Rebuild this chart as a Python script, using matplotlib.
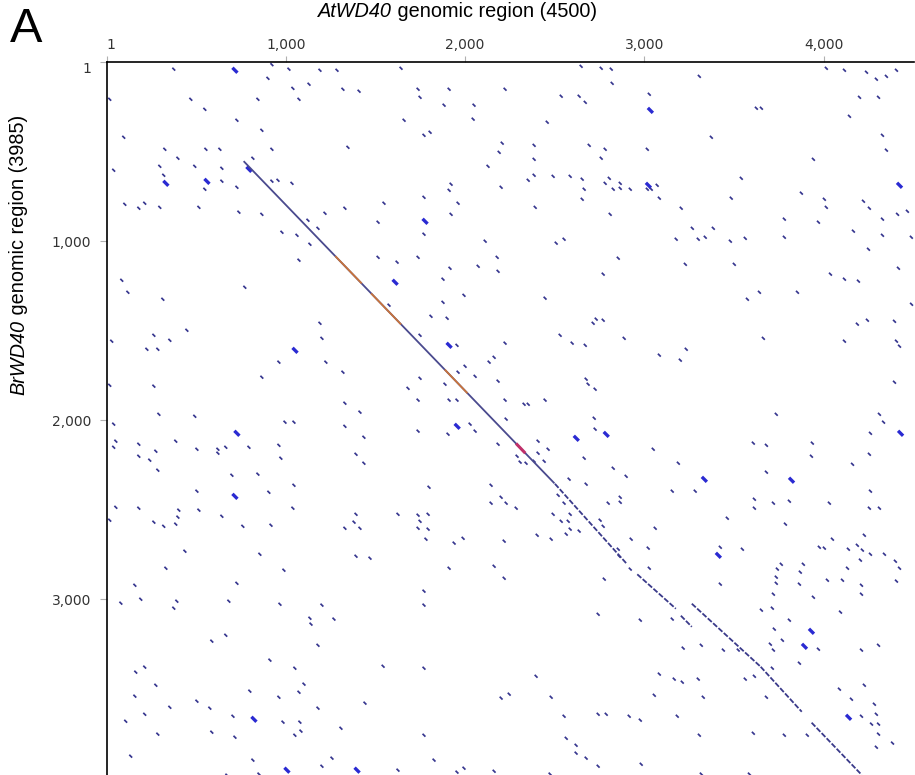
import matplotlib
matplotlib.use("Agg")
import matplotlib.pyplot as plt
from matplotlib.collections import LineCollection

# sequence lengths
AT_LEN = 4500
BR_LEN = 3985

x_ticks = [1, 1000, 2000, 3000, 4000]
x_tick_labels = ["1", "1,000", "2,000", "3,000", "4,000"]
y_ticks = [1, 1000, 2000, 3000]
y_tick_labels = ["1", "1,000", "2,000", "3,000"]

# main diagonal match runs (At start, Br start, At end, Br end)
diag_runs = [
    (769, 558, 2495, 2349),
    (2501, 2355, 2900, 2800),
    (2960, 2860, 3175, 3052),
    (3203, 3091, 3264, 3153),
    (3264, 3024, 3648, 3376),
    (3648, 3376, 3877, 3627),
    (3932, 3688, 4211, 3979),
]
# stretches of the first run with higher identity (orange) and one red spot
orange_runs = [(1280, 1088, 1420, 1233), (1480, 1296, 1640, 1462), (1890, 1721, 2010, 1846)]
red_runs = [(2290, 2136, 2330, 2178)]

# short scattered hits (At position, Br position)
dots_top = [
    (368, 33), (893, 84), (915, 8), (1010, 33), (1183, 39), (1278, 39), (1635, 28), (1032, 140),
    (1122, 117), (1311, 145), (1401, 156), (1730, 145), (1903, 145), (2215, 145), (11, 201),
    (463, 201), (837, 201), (1066, 201), (541, 257), (1741, 190), (1875, 234), (2042, 234),
    (720, 318), (1652, 318), (2037, 312), (2450, 329), (89, 413), (859, 374), (1763, 402),
    (1797, 385), (318, 480), (547, 480), (625, 480), (915, 480), (1339, 469), (2199, 446),
    (2377, 458), (2182, 497), (2377, 536), (391, 530), (809, 530), (2639, 17), (2751, 28),
    (2807, 33), (3298, 73), (4006, 28), (4107, 39), (4230, 50), (4285, 89), (4341, 73),
    (4397, 39), (2812, 112), (2528, 184), (2628, 184), (2662, 218), (3019, 173), (3616, 251),
    (3644, 251), (4191, 190), (4297, 190), (4135, 296),
]
dots_left = [
    (33, 597), (290, 575), (312, 625), (485, 575), (541, 703), (636, 586), (636, 658), (720, 692),
    (915, 658), (949, 653), (1027, 670), (95, 787), (173, 809), (206, 781), (290, 804), (508, 804),
    (731, 831), (859, 843), (971, 943), (1055, 960), (1066, 1099), (78, 1211), (112, 1278),
    (307, 1317), (764, 1250), (441, 1490), (257, 1518), (22, 1551), (346, 1546), (218, 1596),
    (279, 1596), (954, 1668), (859, 1752), (11, 1797), (257, 1802), (33, 2014), (285, 1959),
    (485, 1970), (45, 2109), (33, 2143), (173, 2126), (173, 2193), (268, 2165), (234, 2215),
    (279, 2271), (379, 2109), (497, 2154), (614, 2176), (497, 2388), (614, 2154), (658, 2143),
    (787, 2143), (954, 2132), (965, 2204), (692, 2299), (837, 2293), (898, 2394), (1038, 2355),
    (988, 2003), (1038, 2003),
]
dots_center = [
    (2120, 575), (2377, 625), (2344, 653), (1914, 675), (1903, 709), (2193, 692), (2383, 804),
    (1540, 781), (1763, 748), (1953, 781), (1914, 843), (1322, 809), (1211, 837), (1507, 887),
    (1116, 876), (1172, 921), (1763, 954), (2104, 993), (1127, 1010), (1507, 1083), (1613, 1110),
    (1730, 1083), (2171, 1083), (1908, 1144), (2065, 1133), (2176, 1161), (1869, 1205),
    (1986, 1295), (2438, 1311), (1869, 1334), (1568, 1350), (1802, 1412), (1892, 1423),
    (1183, 1451), (1194, 1535), (1741, 1518), (1947, 1574), (2215, 1562), (1216, 1668),
    (1311, 1724), (1992, 1691), (1953, 1724), (2126, 1668), (2154, 1641), (2048, 1747),
    (2176, 1774), (1741, 1758), (1674, 1814), (1880, 1791), (1322, 1897), (1406, 1947),
    (1730, 1880), (1903, 1880), (1947, 1880), (2215, 1880), (2321, 1903), (2344, 1903),
    (2438, 1880), (1322, 2026), (1428, 2087), (1730, 2053), (2020, 2014), (2048, 2053),
    (1897, 2070), (2221, 1986), (2176, 2126), (1384, 2182), (1428, 2232), (2399, 2109),
    (2399, 2176), (2377, 2221), (2433, 2221), (2282, 2193), (2299, 2226), (1791, 2366),
    (2137, 2355), (2332, 2232), (2455, 2154),
]
dots_upper_right = [
    (4319, 402), (4341, 485), (3365, 413), (2684, 458), (2773, 480), (3008, 480), (2751, 530),
    (3934, 536), (2483, 631), (2578, 631), (2645, 647), (2656, 703), (2773, 670), (2796, 642),
    (2818, 703), (2857, 670), (2857, 698), (2913, 703), (3008, 703), (3030, 703), (3063, 681),
    (3075, 753), (2645, 759), (2801, 843), (3532, 642), (3476, 753), (3197, 809), (3867, 725),
    (3995, 759), (4006, 804), (4213, 770), (4246, 809), (4403, 843), (4458, 826), (3772, 870),
    (3962, 887), (4319, 870), (3259, 921), (3376, 921), (3169, 982), (3292, 982), (3331, 971),
    (3471, 993), (3554, 977), (3772, 971), (4157, 937), (4319, 960), (4480, 971), (4241, 1038),
    (2500, 1004), (2544, 982), (2846, 1088), (3220, 1122), (3493, 1122), (2762, 1177),
    (4408, 1144), (4029, 1177), (4107, 1205), (4185, 1216), (3566, 1317), (3633, 1278),
    (3845, 1278), (4481, 1345), (2706, 1451), (2723, 1428), (2762, 1434), (2522, 1518),
    (2589, 1562), (2662, 1574), (2879, 1535), (3655, 1535), (4179, 1456), (4235, 1434),
    (4386, 1440), (4107, 1551), (4397, 1551), (4414, 1579), (3225, 1596), (3075, 1629),
    (3192, 1657), (2667, 1763), (2678, 1791), (2717, 1819), (4386, 1780), (2712, 1981),
    (3727, 1959), (4302, 1959),
]
dots_lower_left = [
    (45, 2478), (173, 2483), (396, 2494), (391, 2533), (508, 2494), (11, 2550), (257, 2561),
    (312, 2584), (379, 2572), (636, 2528), (753, 2584), (910, 2578), (1032, 2483), (430, 2723),
    (848, 2740), (324, 2818), (1618, 2517), (1384, 2517), (1373, 2561), (1406, 2595),
    (1322, 2595), (1730, 2522), (1741, 2556), (1786, 2517), (1730, 2595), (1786, 2600),
    (1774, 2656), (1931, 2678), (1384, 2751), (1462, 2762), (1903, 2818), (982, 2829),
    (1981, 2651), (1763, 2946), (1763, 3024), (1194, 3024), (1127, 3097), (1133, 3130),
    (1261, 3102), (1172, 3248), (1043, 3376), (1535, 3365), (1763, 3376), (1066, 3510),
    (1094, 3465), (1434, 3571), (1172, 3599), (1071, 3677), (1043, 3750), (1077, 3727),
    (1300, 3711), (1763, 3750), (1250, 3878), (1194, 3923), (1618, 3945), (1819, 3889),
    (1947, 3956), (1986, 3934), (151, 2913), (720, 2902), (73, 3013), (184, 2991), (385, 3002),
    (368, 3041), (675, 3002), (960, 3019), (580, 3225), (658, 3192), (904, 3331), (156, 3398),
    (206, 3370), (268, 3471), (792, 3504), (954, 3538), (151, 3532), (497, 3560), (569, 3599),
    (346, 3594), (100, 3672), (206, 3633), (698, 3644), (977, 3677), (279, 3744), (580, 3733),
    (709, 3761), (128, 3867), (809, 3889), (664, 3973), (843, 3967),
]
dots_lower_right = [
    (2717, 2042), (2656, 2204), (2818, 2260), (2890, 2305), (2572, 2321), (2667, 2349),
    (2193, 2422), (2221, 2455), (2137, 2455), (2277, 2483), (2511, 2411), (2544, 2455),
    (2790, 2455), (2857, 2422), (2857, 2450), (2483, 2517), (2528, 2556), (2578, 2517),
    (2567, 2556), (2556, 2628), (2578, 2600), (2628, 2611), (2745, 2550), (2762, 2584),
    (2394, 2634), (2472, 2656), (2210, 2667), (2154, 2807), (2210, 2874), (2768, 2879),
    (2918, 2656), (3013, 2706), (3019, 2818), (2913, 2823), (2846, 2712), (2851, 2751),
    (3052, 2595), (3041, 2154), (3181, 2232), (3147, 2388), (3275, 2388), (3454, 2539),
    (3415, 2701), (3538, 2712), (3415, 2907), (3599, 2120), (3672, 2132), (3672, 2282),
    (3928, 2120), (3923, 2193), (4152, 2238), (4246, 2182), (4252, 2065), (4325, 2003),
    (4252, 2388), (4246, 2483), (4302, 2483), (3605, 2433), (3605, 2483), (3711, 2455),
    (3800, 2444), (3778, 2572), (4023, 2455), (4040, 2656), (3967, 2701), (3995, 2706),
    (4129, 2712), (4179, 2690), (4207, 2717), (4218, 2634), (4252, 2740), (4330, 2740),
    (4391, 2779), (4414, 2818), (4196, 2773), (4124, 2818), (3878, 2796), (3861, 2840),
    (3755, 2796), (3733, 2823), (3727, 2868), (3727, 2902), (3856, 2907), (4012, 2885),
    (4096, 2885), (4202, 2913), (4202, 2963), (4397, 2890), (3934, 2980), (3711, 2963),
    (4085, 3063), (3644, 3052), (3705, 3041), (3800, 3108), (3716, 3158), (3761, 3220),
    (3694, 3242), (3711, 3275), (3962, 3270), (4202, 3275), (4297, 3248), (3856, 3348),
    (3705, 3376), (3554, 3437), (3605, 3421), (3672, 3538), (4079, 3493), (4146, 3549),
    (4218, 3471), (4274, 3577), (4285, 3633), (4297, 3688), (4202, 3644), (4258, 3688),
    (4297, 3744), (4285, 3817), (4375, 3794), (3599, 3739), (3772, 3750), (3900, 3750),
    (3075, 3409), (3158, 3437), (3203, 3454), (3292, 3437), (3208, 3264), (3309, 3248),
    (3432, 3275), (3515, 3275), (3147, 3102), (2969, 3108), (2734, 3075), (3047, 3527),
    (3320, 3538), (3175, 3644), (3298, 3750), (3577, 3967), (3309, 3967), (2974, 3912),
    (2734, 3923), (2388, 3421), (2193, 3543), (2238, 3521), (2472, 3538), (2544, 3644),
    (2734, 3633), (2779, 3633), (2907, 3644), (2969, 3666), (2556, 3767), (2611, 3806),
    (2611, 3850), (2667, 3878), (2154, 3951), (2466, 3967),
]
# bigger clusters of hits
blobs = [
    (703, 33), (3019, 257), (318, 664), (547, 653), (781, 586), (1038, 1596), (714, 2059),
    (703, 2411), (1763, 876), (1596, 1216), (1897, 1568), (1942, 2020), (3008, 675), (4408, 675),
    (1384, 3939), (809, 3655), (993, 3939), (2773, 2065), (2606, 2087), (3320, 2316),
    (3398, 2740), (3806, 2321), (4414, 2059), (3917, 3164), (3878, 3248), (4124, 3644),
]

DOT_COLOR = "#36368f"
BLOB_COLOR = "#2a2ad2"
LABEL_FONT = "Liberation Sans"
LABEL_SIZE = 14.3


def hit_segments(points, length):
    # each hit is a tiny forward-diagonal dash starting at its position
    return [[(x, y), (x + length, y + length)] for x, y in points]


fig = plt.figure(figsize=(9.15, 7.75), dpi=100)

ax = fig.add_axes([106.5 / 915, 0.0, (913.5 - 106.5) / 915, (775 - 62) / 775])
ax.set_xlim(1, AT_LEN)
ax.set_ylim(3980, 1)

all_dots = dots_top + dots_left + dots_center + dots_upper_right + dots_lower_left + dots_lower_right
ax.add_collection(LineCollection(hit_segments(all_dots, 16), colors=DOT_COLOR, linewidths=1.25))
ax.add_collection(LineCollection(hit_segments(blobs, 28), colors=BLOB_COLOR, linewidths=2.4))

# diagonal
first = diag_runs[0]
ax.plot([first[0], first[2]], [first[1], first[3]], color="#4a4a8e", lw=1.3, zorder=3)
for x0, y0, x1, y1 in diag_runs[1:]:
    ax.plot([x0, x1], [y0, y1], color="#3a3a8a", lw=1.3, ls=(0, (3, 1.0)), zorder=3)
for x0, y0, x1, y1 in orange_runs:
    ax.plot([x0, x1], [y0, y1], color="#c8743c", lw=1.3, zorder=4)
for x0, y0, x1, y1 in red_runs:
    ax.plot([x0, x1], [y0, y1], color="#c0306a", lw=2.2, zorder=4)

# axes styling
for side in ("bottom", "right"):
    ax.spines[side].set_visible(False)
for side in ("top", "left"):
    ax.spines[side].set_linewidth(1.2)
    ax.spines[side].set_color("black")

ax.xaxis.tick_top()
ax.set_xticks(x_ticks)
ax.set_xticklabels(x_tick_labels)
ax.set_yticks(y_ticks)
ax.set_yticklabels(y_tick_labels)
ax.tick_params(axis="x", direction="out", length=4, width=0.8, color="#b0b0b0",
               pad=3, labelsize=10, labelcolor="#333333")
ax.tick_params(axis="y", direction="out", length=5, width=0.8, color="#b0b0b0",
               pad=6, labelsize=10, labelcolor="#333333")
ax.get_xticklabels()[0].set_horizontalalignment("left")
ax.get_yticklabels()[0].set_verticalalignment("top")

# axis titles: italic gene name followed by upright text
t_at = fig.text(318 / 915, 1 - 21 / 775, "AtWD40", ha="left", va="bottom",
                fontsize=LABEL_SIZE, family=LABEL_FONT, style="italic")
ax.annotate(" genomic region (4500)", xy=(1, 0), xycoords=t_at, ha="left", va="bottom",
            fontsize=LABEL_SIZE, family=LABEL_FONT, annotation_clip=False)

t_br = fig.text(9 / 915, 1 - 395 / 775, "BrWD40", ha="left", va="bottom", rotation=90,
                fontsize=LABEL_SIZE, family=LABEL_FONT, style="italic")
ax.annotate(" genomic region (3985)", xy=(0, 1), xycoords=t_br, ha="left", va="bottom",
            rotation=90, fontsize=LABEL_SIZE, family=LABEL_FONT, annotation_clip=False)

fig.text(26 / 915, 1 - 30 / 775, "A", ha="center", va="center", fontsize=35,
         family=LABEL_FONT)

fig.savefig("out.png", dpi=100)
